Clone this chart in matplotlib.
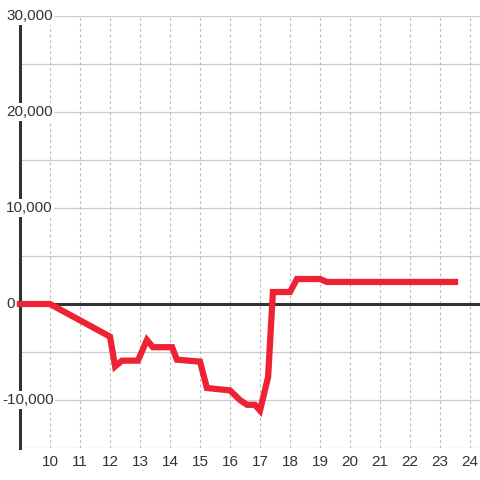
import matplotlib.pyplot as plt
import numpy as np

plt.rcParams['font.family'] = ['Liberation Sans', 'DejaVu Sans']

# data
hours = [9, 10, 12, 12.17, 12.4, 12.93, 13.23, 13.43, 14.07, 14.23, 15.0, 15.23,
         16.0, 16.33, 16.57, 16.83, 17.0, 17.27, 17.43, 18.0, 18.23, 19.0, 19.23, 23.5]
values = [0, 0, -3400, -6500, -5900, -5900, -3750, -4500, -4500, -5800, -6000, -8750,
          -9000, -10000, -10500, -10500, -11100, -7600, 1250, 1250, 2600, 2600, 2300, 2300]
x_ticks = list(range(10, 25))
y_ticks = [-10000, 0, 10000, 20000, 30000]
y_grid = list(range(-15000, 30001, 5000))

fig = plt.figure(figsize=(4.8, 4.8), dpi=100)
ax = fig.add_axes([20 / 480, 32 / 480, 460 / 480, 432 / 480])
ax.set_xlim(9, 24.333)
ax.set_ylim(-15000, 30000)

for s in ['top', 'right', 'bottom']:
    ax.spines[s].set_visible(False)
ax.spines['left'].set_color('#333333')
ax.spines['left'].set_linewidth(2.2)
ax.spines['left'].set_zorder(2)

# grid
for v in y_grid:
    ax.axhline(v, color='#cccccc', lw=0.9, zorder=1)
for t in x_ticks:
    ax.axvline(t, color='#bbbbbb', lw=0.8, ls=(0, (2.5, 2.5)), zorder=1)
ax.axhline(0, color='#333333', lw=2.2, zorder=3)

ax.plot(hours, values, color='#ee2233', lw=4.5, solid_capstyle='projecting',
        solid_joinstyle='miter', zorder=4, clip_on=False)

ax.set_xticks(x_ticks)
ax.set_xticklabels([str(t) for t in x_ticks], fontsize=11, color='#333333')
ax.tick_params(axis='x', length=0, pad=5)
ax.set_yticks([])

# y labels sit over the spine with a white box behind them
for v in y_ticks:
    txt = '{:,}'.format(v)
    xpos = -0.0305 if v >= 0 else -0.039
    ax.text(xpos, v, txt, transform=ax.get_yaxis_transform(), ha='left', va='center',
            fontsize=11, color='#333333', zorder=5, clip_on=False,
            bbox=dict(boxstyle='square,pad=0.1', fc='white', ec='none'))

fig.savefig('out.png', dpi=100, facecolor='white')
